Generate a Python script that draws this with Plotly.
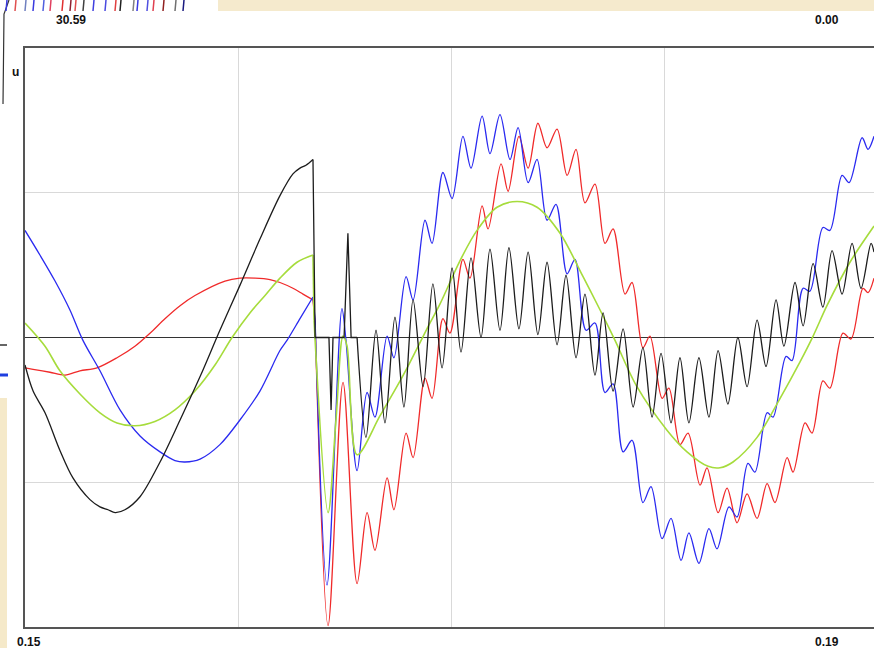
import plotly.graph_objects as go

# Recorded phase quantities: time in ms, value in u (one grid division = 1 u)
black_t = [150.00, 150.38, 150.94, 151.64, 152.25, 153.05, 153.52, 153.90, 154.23, 154.69,
           155.40, 156.34, 157.28, 158.22, 159.15, 160.09, 161.03, 161.97, 162.58, 162.91,
           163.19, 163.52, 163.62, 164.27, 164.37, 164.46, 164.98, 165.16, 165.31, 165.59,
           166.01, 166.48, 166.90, 167.37, 167.79, 168.22, 168.69, 169.15, 169.58, 170.05,
           170.47, 170.94, 171.41, 171.83, 172.30, 172.72, 173.19, 173.62, 174.08, 174.51,
           174.98, 175.40, 175.87, 176.29, 176.76, 177.14, 177.61, 178.08, 178.55, 179.01,
           179.44, 179.86, 180.33, 180.75, 181.17, 181.64, 182.11, 182.54, 183.00, 183.47,
           183.90, 184.37, 184.79, 185.26, 185.63, 186.15, 186.53, 187.00, 187.46, 187.89,
           188.36, 188.83, 189.25, 189.72, 189.86]
black_u = [-0.19, -0.37, -0.52, -0.78, -0.97, -1.12, -1.17, -1.19, -1.21, -1.19,
           -1.10, -0.86, -0.57, -0.27, 0.05, 0.36, 0.68, 0.98, 1.13, 1.17,
           1.19, 1.23, 0.00, 0.00, -0.50, 0.00, 0.00, 0.72, 0.00, 0.00,
           -0.69, 0.05, -0.59, 0.14, -0.48, 0.26, -0.34, 0.37, -0.21, 0.48,
           -0.10, 0.55, 0.00, 0.61, 0.05, 0.62, 0.06, 0.59, 0.02, 0.52,
           -0.05, 0.43, -0.14, 0.30, -0.26, 0.17, -0.37, 0.06, -0.48, -0.07,
           -0.55, -0.11, -0.59, -0.14, -0.59, -0.14, -0.55, -0.09, -0.46, 0.00,
           -0.34, 0.12, -0.20, 0.26, -0.06, 0.38, 0.08, 0.51, 0.21, 0.60,
           0.30, 0.65, 0.34, 0.65, 0.59]

blue_t = [150.00, 150.70, 151.41, 152.11, 152.72, 153.52, 154.46, 155.40, 156.34, 157.04,
          157.51, 158.22, 159.15, 160.09, 161.03, 161.97, 162.30, 162.91, 163.52, 163.62,
          164.18, 164.88, 165.07, 165.59, 166.06, 166.43, 167.00, 167.32, 167.89, 168.22,
          168.78, 169.11, 169.62, 170.05, 170.56, 170.94, 171.46, 171.83, 172.30, 172.77,
          173.15, 173.62, 174.04, 174.51, 174.93, 175.45, 175.82, 176.34, 176.76, 177.23,
          177.61, 178.08, 178.50, 179.01, 179.39, 179.91, 180.33, 180.80, 181.17, 181.64,
          182.11, 182.49, 183.05, 183.43, 183.94, 184.27, 184.84, 185.12, 185.73, 186.01,
          186.53, 186.85, 187.46, 187.79, 188.36, 188.69, 189.30, 189.58, 189.86]
blue_u = [0.74, 0.57, 0.39, 0.19, -0.02, -0.23, -0.50, -0.68, -0.79, -0.85,
          -0.86, -0.84, -0.74, -0.57, -0.37, -0.09, -0.02, 0.13, 0.28, 0.12,
          -1.71, 0.20, -0.02, -0.92, -0.38, -0.55, 0.01, -0.14, 0.42, 0.26,
          0.81, 0.65, 1.14, 0.96, 1.39, 1.17, 1.53, 1.27, 1.54, 1.23,
          1.45, 1.07, 1.23, 0.81, 0.92, 0.44, 0.54, 0.05, 0.10, -0.38,
          -0.32, -0.79, -0.71, -1.14, -1.03, -1.39, -1.25, -1.54, -1.35, -1.56,
          -1.32, -1.46, -1.17, -1.24, -0.87, -0.93, -0.52, -0.55, -0.13, -0.16,
          0.34, 0.32, 0.76, 0.74, 1.12, 1.07, 1.38, 1.30, 1.39]

red_t = [150.00, 150.38, 151.17, 151.88, 152.58, 153.38, 154.32, 155.16, 155.87, 156.57,
         157.28, 157.98, 159.39, 160.09, 160.80, 161.50, 161.97, 162.58, 163.05, 163.52,
         163.62, 164.23, 164.93, 165.59, 166.06, 166.43, 167.00, 167.32, 167.89, 168.22,
         168.78, 169.11, 169.62, 169.95, 170.56, 170.89, 171.46, 171.74, 172.35, 172.68,
         173.19, 173.62, 174.08, 174.51, 174.98, 175.45, 175.87, 176.29, 176.76, 177.23,
         177.61, 178.17, 178.50, 179.01, 179.34, 179.91, 180.23, 180.75, 181.13, 181.69,
         182.02, 182.54, 182.96, 183.43, 183.90, 184.37, 184.84, 185.21, 185.78, 186.06,
         186.62, 186.95, 187.46, 187.79, 188.40, 188.78, 189.34, 189.58, 189.86]
red_u = [-0.21, -0.22, -0.24, -0.26, -0.23, -0.21, -0.14, -0.06, 0.03, 0.13,
         0.22, 0.29, 0.39, 0.41, 0.41, 0.40, 0.38, 0.34, 0.30, 0.26,
         0.10, -1.99, -0.31, -1.70, -1.21, -1.47, -0.97, -1.19, -0.66, -0.83,
         -0.28, -0.42, 0.13, 0.03, 0.54, 0.41, 0.91, 0.75, 1.20, 1.01,
         1.39, 1.17, 1.48, 1.31, 1.44, 1.12, 1.30, 0.93, 1.06, 0.65,
         0.75, 0.30, 0.38, -0.07, 0.01, -0.42, -0.35, -0.74, -0.66, -1.02,
         -0.90, -1.21, -1.04, -1.28, -1.08, -1.25, -1.01, -1.14, -0.83, -0.93,
         -0.59, -0.66, -0.30, -0.35, 0.03, -0.01, 0.34, 0.31, 0.41]

green_t = [150.00, 150.94, 151.64, 152.58, 153.52, 154.32, 155.16, 156.10, 157.04, 157.98,
           158.92, 159.72, 160.56, 161.27, 161.97, 162.77, 163.52, 163.57, 164.23, 164.60,
           164.93, 165.12, 165.59, 166.67, 167.61, 168.08, 168.87, 169.48, 170.42, 171.22,
           172.16, 173.10, 174.04, 175.12, 176.20, 177.00, 177.70, 178.73, 180.14, 181.08,
           182.07, 182.63, 183.24, 184.37, 185.45, 186.38, 187.00, 187.65, 188.73, 189.86]
green_u = [0.10, -0.06, -0.23, -0.39, -0.52, -0.59, -0.61, -0.58, -0.50, -0.37,
           -0.19, 0.00, 0.17, 0.29, 0.41, 0.52, 0.57, 0.12, -1.21, -0.57,
           0.01, -0.06, -0.81, -0.54, -0.30, -0.17, 0.06, 0.23, 0.53, 0.74,
           0.90, 0.94, 0.90, 0.72, 0.42, 0.19, -0.02, -0.34, -0.64, -0.79,
           -0.89, -0.90, -0.86, -0.69, -0.42, -0.17, 0.01, 0.22, 0.52, 0.77]

# switching instant (ms); each trace is drawn straight from here up to its own settle time
fault_start_ms = 163.52
settle_ms = {"red": 163.62, "blue": 163.62, "green": 163.57, "black": 165.59}

corner_labels = ["30.59", "0.00", "0.15", "0.19"]
axis_name = "u"

series = [
    ("red", red_t, red_u, "#f02a2a", 1.3),
    ("blue", blue_t, blue_u, "#2a2af0", 1.3),
    ("green", green_t, green_u, "#a6dc3c", 1.6),
    ("black", black_t, black_u, "#1c1c1c", 1.3),
]

fig = go.Figure()
for name, t, u, color, width in series:
    ia = max(i for i, v in enumerate(t) if v <= fault_start_ms)
    ib = min(i for i, v in enumerate(t) if v >= settle_ms[name])
    parts = [(0, ia, "spline"), (ia, ib, "linear"), (ib, len(t) - 1, "spline")]
    for i0, i1, shape in parts:
        line = dict(color=color, width=width, shape=shape)
        if shape == "spline":
            line["smoothing"] = 0.9
        fig.add_trace(go.Scatter(
            x=[v / 1000 for v in t[i0:i1 + 1]], y=u[i0:i1 + 1], mode="lines",
            line=line, hoverinfo="skip", showlegend=False,
        ))

W, H = 874, 648
ML, MT, MB = 25, 48, 21
PW, PH = W - ML, H - MT - MB


def px(x):
    return (x - ML) / PW


def py(y):
    return (H - MB - y) / PH


shapes = []
# pale slide background showing around the scope window
shapes.append(dict(type="rect", xref="paper", yref="paper", x0=px(218), x1=px(874), y0=py(11), y1=py(0),
                   fillcolor="#f5eacd", line=dict(width=0), layer="below"))
shapes.append(dict(type="rect", xref="paper", yref="paper", x0=px(0), x1=px(7), y0=py(648), y1=py(398),
                   fillcolor="#f5e9c9", line=dict(width=0), layer="below"))
# edge of the neighbouring trace window
shapes.append(dict(type="path", xref="paper", yref="paper",
                   path=f"M {px(9)} {py(0)} L {px(4)} {py(14)} L {px(3)} {py(104)}",
                   line=dict(color="#333333", width=1.2)))
shapes.append(dict(type="line", xref="paper", yref="paper", x0=px(0), x1=px(7), y0=py(345), y1=py(345),
                   line=dict(color="#666666", width=2)))
shapes.append(dict(type="line", xref="paper", yref="paper", x0=px(0), x1=px(8), y0=py(375), y1=py(375),
                   line=dict(color="#1f3fe0", width=3)))
# strip of the overview trace above the window
strip_x = [6, 15, 25, 33, 43, 50, 62, 70, 75, 83, 93, 105, 115, 120, 133, 137, 147, 153, 163, 175, 183]
strip_c = ["#3a3ae0", "#e05050", "#7080c0", "#3a3ae0", "#5060e0", "#e04060", "#e03030", "#902030",
           "#e05050", "#404040", "#4040e0", "#4a4ae0", "#e04040", "#202020", "#808080", "#3a3ae0",
           "#5050e0", "#e04050", "#902020", "#707070", "#1a1a80"]
for sx, sc in zip(strip_x, strip_c):
    shapes.append(dict(type="line", xref="paper", yref="paper", x0=px(sx), x1=px(sx + 1),
                       y0=py(11), y1=py(0), line=dict(color=sc, width=1.5)))

label_font = dict(family="Arial, Liberation Sans, sans-serif", size=12, color="#111111")
annotations = [
    dict(text=f"<b>{corner_labels[0]}</b>", x=px(71), y=py(20)),
    dict(text=f"<b>{corner_labels[1]}</b>", x=px(827), y=py(20)),
    dict(text=f"<b>{corner_labels[2]}</b>", x=px(29), y=py(642)),
    dict(text=f"<b>{corner_labels[3]}</b>", x=px(827), y=py(642)),
    dict(text=f"<b>{axis_name}</b>", x=px(15), y=py(72)),
]
for a in annotations:
    a.update(xref="paper", yref="paper", showarrow=False, xanchor="center", yanchor="middle", font=label_font)

fig.update_layout(
    width=W, height=H,
    margin=dict(l=ML, r=0, t=MT, b=MB, pad=0),
    paper_bgcolor="white", plot_bgcolor="white",
    shapes=shapes, annotations=annotations,
    xaxis=dict(range=[0.15, 0.15 + 0.04 * PW / 852], tickvals=[0.16, 0.17, 0.18],
               showticklabels=False, ticks="", showgrid=True, gridcolor="#d9d9d9", gridwidth=1,
               zeroline=False, showline=True, linecolor="#555555", linewidth=1.6, mirror=True,
               fixedrange=True),
    yaxis=dict(range=[-2, 2], tickvals=[-1, 0, 1], showticklabels=False, ticks="",
               showgrid=True, gridcolor="#d9d9d9", gridwidth=1,
               zeroline=True, zerolinecolor="#333333", zerolinewidth=1.2,
               showline=True, linecolor="#555555", linewidth=1.6, mirror=False,
               fixedrange=True),
)

fig.write_html("out.html", config={"displayModeBar": False})
